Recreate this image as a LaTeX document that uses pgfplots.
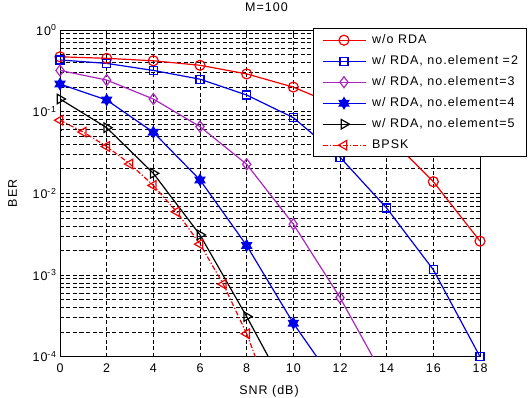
\documentclass[border=0pt]{standalone}
\usepackage{fontspec}
\setmainfont{Liberation Sans}[LetterSpace=8]
\usepackage{pgfplots}
\pgfplotsset{compat=1.18}
\usetikzlibrary{plotmarks}

\definecolor{mred}{RGB}{240,0,0}
\definecolor{mblue}{RGB}{0,0,230}
\definecolor{mmag}{RGB}{170,40,190}
\newcommand\mlfont{\fontsize{12.5}{14}\selectfont}

\pgfdeclareplotmark{hexagram}{%
  \pgfpathmoveto{\pgfqpointpolar{90}{\pgfplotmarksize}}%
  \pgfpathlineto{\pgfqpointpolar{210}{\pgfplotmarksize}}%
  \pgfpathlineto{\pgfqpointpolar{330}{\pgfplotmarksize}}%
  \pgfpathclose
  \pgfpathmoveto{\pgfqpointpolar{270}{\pgfplotmarksize}}%
  \pgfpathlineto{\pgfqpointpolar{30}{\pgfplotmarksize}}%
  \pgfpathlineto{\pgfqpointpolar{150}{\pgfplotmarksize}}%
  \pgfpathclose
  \pgfusepathqfillstroke
}

\begin{document}
\begin{tikzpicture}
\begin{axis}[
  at={(0,0)}, anchor=south west,
  scale only axis, width=420pt, height=326.7pt,
  xmin=0, xmax=18, ymode=log, ymin=1e-4, ymax=1,
  xtick={0,2,...,18},
  ytick={1e-4,1e-3,1e-2,1e-1,1},
  yticklabels={10\textsuperscript{-4},10\textsuperscript{-3},10\textsuperscript{-2},10\textsuperscript{-1},10\textsuperscript{0}},
  minor ytick={2e-4,3e-4,4e-4,5e-4,6e-4,7e-4,8e-4,9e-4,
               2e-3,3e-3,4e-3,5e-3,6e-3,7e-3,8e-3,9e-3,
               2e-2,3e-2,4e-2,5e-2,6e-2,7e-2,8e-2,9e-2,
               0.2,0.3,0.4,0.5,0.6,0.7,0.8,0.9},
  /pgf/number format/assume math mode=true,
  tick label style={font=\mlfont},
  xticklabel style={yshift=-4pt},
  label style={font=\mlfont},
  title style={font=\mlfont},
  title={M=100},
  title style={at={(rel axis cs:0.4917,1.0389)}, anchor=base},
  xlabel={SNR (dB)},
  xlabel style={at={(rel axis cs:0.4976,-0.1142)}, anchor=base},
  ylabel={BER},
  ylabel style={at={(rel axis cs:-0.1024,0.5)}, anchor=base, rotate=0},
  tick align=inside,
  major tick length=4pt, minor tick length=2pt,
  xmajorgrids, ymajorgrids, yminorgrids,
  major grid style={black, line width=0.7pt, dash pattern=on 4pt off 2.5pt},
  minor grid style={black, line width=0.7pt, dash pattern=on 4pt off 2.5pt},
  axis line style={black, line width=0.8pt},
  every tick/.style={black, line width=0.6pt},
  legend image code/.code={\draw[mark repeat=2,mark phase=2,#1] plot coordinates {(0pt,0pt) (21.5pt,0pt) (43pt,0pt)};},
  legend style={at={(rel axis cs:0.6024,1.0052)}, anchor=north west,
    draw=black, line width=0.8pt, fill=white,
    inner xsep=8.5pt, inner ysep=6pt, row sep=10pt, column sep=6pt,
    font=\mlfont,
    nodes={inner xsep=0pt, inner ysep=0pt, text height=8.6pt, text depth=2.4pt},
    cells={anchor=west}},
]
\addplot[mred, line width=1.2pt, mark=o, mark size=5pt, mark options={solid}]
 coordinates {(0,0.47)(2,0.45)(4,0.42)(6,0.37)(8,0.29)(10,0.20)(12,0.115)(14,0.052)(16,0.0139)(18,0.0026)};
\addlegendentry{w/o RDA}
\addplot[mblue, line width=1.2pt, mark=square, mark size=4pt, mark options={solid}]
 coordinates {(0,0.43)(2,0.39)(4,0.32)(6,0.25)(8,0.16)(10,0.0845)(12,0.0277)(14,0.0066)(16,0.00116)(18,0.0001)};
\addlegendentry{w/ RDA, no.element =2}
\addplot[mmag, line width=1.2pt, mark=diamond, mark size=5.5pt, mark options={solid}]
 coordinates {(0,0.32)(2,0.244)(4,0.143)(6,0.0656)(8,0.0227)(10,0.0042)(12,0.00053)};
\addlegendentry{w/ RDA, no.element=3}
\addplot[mblue, line width=1.2pt, mark=hexagram, mark size=5.5pt, mark options={solid, fill=mblue}]
 coordinates {(0,0.218)(2,0.139)(4,0.056)(6,0.0146)(8,0.0023)(10,0.000257)};
\addlegendentry{w/ RDA, no.element=4}
\addplot[black, line width=1.2pt, mark=triangle, mark size=5.5pt, mark options={solid, rotate=-90}]
 coordinates {(0,0.143)(2,0.0637)(4,0.0176)(6,0.0031)(8,0.00031)};
\addlegendentry{w/ RDA, no.element=5}
\addplot[mred, line width=1.2pt, dash pattern=on 5pt off 2pt on 1.2pt off 2pt, mark=triangle, mark size=5.5pt, mark options={solid, rotate=90}]
 coordinates {(0,0.0786)(1,0.0563)(2,0.0375)(3,0.0229)(4,0.0125)(5,0.00595)(6,0.00239)(7,0.000772)(8,0.000191)};
\addlegendentry{BPSK}
% continuations of the curves below the lower limit (no markers there)
\addplot[forget plot, mmag, line width=1.2pt] coordinates {(12,0.00053)(14,0.000049)};
\addplot[forget plot, mblue, line width=1.2pt] coordinates {(10,0.000257)(12,0.000039)};
\addplot[forget plot, black, line width=1.2pt] coordinates {(8,0.00031)(10,0.000027)};
\addplot[forget plot, mred, line width=1.2pt, dash pattern=on 5pt off 2pt on 1.2pt off 2pt] coordinates {(8,0.000191)(9,0.0000336)};
\end{axis}
\pgfresetboundingbox
\path (-60pt,-41.3pt) rectangle (469pt,356.7pt);
\end{tikzpicture}
\end{document}
